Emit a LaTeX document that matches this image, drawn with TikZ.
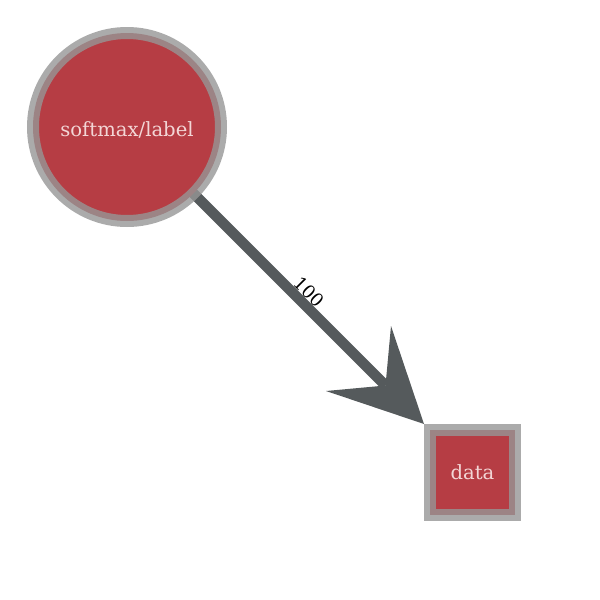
\documentclass[tikz,border=0pt]{standalone}
\usepackage{fontspec}
\setmainfont{DejaVu Serif}
\usetikzlibrary{calc,backgrounds}
\definecolor{nodered}{RGB}{182,61,68}
\definecolor{ringgray}{RGB}{150,150,150}
\definecolor{edgegray}{RGB}{85,90,92}
\definecolor{txtpink}{RGB}{243,214,214}
\tikzset{
  nodebase/.style={fill=nodered, draw=ringgray, draw opacity=0.8, line width=12pt,
    text=txtpink, inner sep=0pt, font=\fontsize{19.6}{22}\selectfont},
  circnode/.style={nodebase, circle, minimum size=188pt},
  sqnode/.style={nodebase, rectangle, minimum size=85pt},
  edgeline/.style={draw=edgegray, line width=10.5pt},
  edgehead/.style={fill=edgegray},
  edgelabel/.style={font=\fontsize{18}{20}\selectfont, text=black, rotate=-45, inner sep=0pt}
}
\begin{document}
\begin{tikzpicture}[x=1pt,y=-1pt]
\useasboundingbox (0,0) rectangle (600,600);
\node[circnode] (softmax) at (127,127) {\raisebox{-3pt}[\height][\depth]{softmax/label}};
\node[sqnode] (data) at (472.5,472.5) {data};
\coordinate (tip) at (data.north west);
\coordinate (notch) at ($(tip)+(-38.5,-38.5)$);
\coordinate (wingA) at ($(tip)+(-98,-33)$);
\coordinate (wingB) at ($(tip)+(-33,-98)$);
\begin{pgfonlayer}{background}
\draw[edgeline] (softmax.center) -- (notch);
\end{pgfonlayer}
\fill[edgehead] (tip) -- (wingA) -- (notch) -- (wingB) -- cycle;
\node[edgelabel] (lbl) at (309,292) {100};
\end{tikzpicture}
\end{document}
